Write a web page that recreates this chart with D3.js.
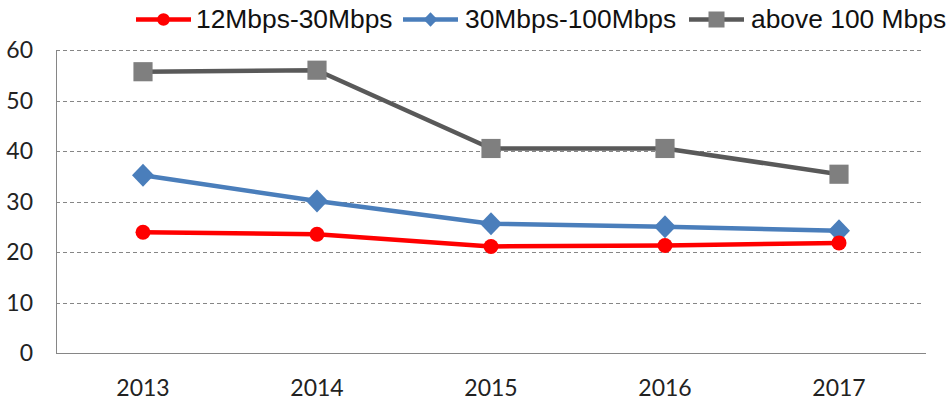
<!DOCTYPE html>
<html>
<head>
<meta charset="utf-8">
<script src="https://cdn.jsdelivr.net/npm/d3@7"></script>
<style>
body { margin: 0; background: #fff; }
svg { display: block; }
</style>
</head>
<body>
<div id="chart"></div>
<script>
var years = ["2013", "2014", "2015", "2016", "2017"];
var low = [23.9, 23.5, 21.1, 21.3, 21.8];
var mid = [35.2, 30.1, 25.6, 25.0, 24.2];
var high = [55.7, 56.0, 40.5, 40.5, 35.4];
var yTicks = [0, 10, 20, 30, 40, 50, 60];
var names = ["12Mbps-30Mbps", "30Mbps-100Mbps", "above 100 Mbps"];

var series = [
	{name: names[0], values: low, color: "#ff0000", marker: "circle"},
	{name: names[1], values: mid, color: "#4a7ebb", marker: "diamond"},
	{name: names[2], values: high, color: "#595959", marker: "square"}
];

var width = 947, height = 401;
var plotLeft = 56, plotRight = 926, plotTop = 50, plotBottom = 353;

var svg = d3.select("#chart")
	.append("svg")
	.attr("width", width)
	.attr("height", height);

var x = d3.scaleBand().domain(years).range([plotLeft, plotRight]);
var y = d3.scaleLinear().domain([0, 60]).range([plotBottom, plotTop]);

// gridlines
svg.selectAll(".grid")
	.data(yTicks.filter(function(d){ return d > 0; }))
	.enter()
	.append("line")
	.attr("x1", plotLeft)
	.attr("x2", plotRight - 3)
	.attr("y1", function(d){ return Math.round(y(d)) + 0.5; })
	.attr("y2", function(d){ return Math.round(y(d)) + 0.5; })
	.attr("stroke", "#868686")
	.attr("stroke-width", 1)
	.attr("stroke-dasharray", "4,3");

// axes lines
svg.append("line")
	.attr("x1", plotLeft + 0.5).attr("x2", plotLeft + 0.5)
	.attr("y1", y(60)).attr("y2", y(0))
	.attr("stroke", "#868686");
svg.append("line")
	.attr("x1", plotLeft).attr("x2", plotRight)
	.attr("y1", Math.round(y(0)) + 0.5).attr("y2", Math.round(y(0)) + 0.5)
	.attr("stroke", "#868686");

// y tick labels
svg.selectAll(".ylab")
	.data(yTicks).enter()
	.append("text")
	.attr("x", 33)
	.attr("y", function(d){ return y(d); })
	.attr("dy", "0.35em")
	.attr("text-anchor", "end")
	.attr("font-family", "Lato, sans-serif")
	.attr("font-size", 23)
	.attr("fill", "#222")
	.text(function(d){ return d; });

// x tick labels
svg.selectAll(".xlab")
	.data(years).enter()
	.append("text")
	.attr("x", function(d){ return x(d) + x.bandwidth() / 2; })
	.attr("y", 396)
	.attr("text-anchor", "middle")
	.attr("font-family", "Lato, sans-serif")
	.attr("font-size", 23)
	.attr("fill", "#222")
	.text(function(d){ return d; });

var line = d3.line()
	.x(function(d, i){ return x(years[i]) + x.bandwidth() / 2; })
	.y(function(d){ return y(d); });

function drawMarker(g, type, color, size) {
	if (type == "circle") {
		g.append("circle").attr("r", size * 0.68).attr("fill", color);
	} else if (type == "diamond") {
		var s = size;
		g.append("path")
			.attr("d", "M0," + (-s * 1.05) + "L" + s + ",0L0," + (s * 1.05) + "L" + (-s) + ",0Z")
			.attr("fill", color);
	} else {
		var h = size * 0.87;
		g.append("rect")
			.attr("x", -h).attr("y", -h)
			.attr("width", 2 * h).attr("height", 2 * h)
			.attr("fill", "#7f7f7f");
	}
}

// gray underneath, red on top
[series[2], series[1], series[0]].forEach(function(s){
	svg.append("path")
		.datum(s.values)
		.attr("d", line)
		.attr("fill", "none")
		.attr("stroke", s.color)
		.attr("stroke-width", 4.5)
		.attr("stroke-linejoin", "round");

	s.values.forEach(function(v, i){
		var g = svg.append("g")
			.attr("transform", "translate(" + (x(years[i]) + x.bandwidth() / 2) + "," + y(v) + ")");
		drawMarker(g, s.marker, s.color, 11);
	});
});

// legend
var legendX = [136, 403, 689];
series.forEach(function(s, i){
	var lg = svg.append("g")
		.attr("transform", "translate(" + legendX[i] + ",19.5)");
	lg.append("line")
		.attr("x1", 0).attr("x2", 55)
		.attr("y1", 0).attr("y2", 0)
		.attr("stroke", s.color)
		.attr("stroke-width", 4.5);
	var m = lg.append("g").attr("transform", "translate(27.5,0)");
	drawMarker(m, s.marker, s.color, s.marker == "diamond" ? 7 : 9.2);
	lg.append("text")
		.attr("x", s.marker == "circle" ? 60 : 62)
		.attr("y", 8)
		.attr("font-family", "'Liberation Sans', Arial, sans-serif")
		.attr("font-size", 26.4)
		.attr("fill", "#111")
		.text(s.name);
});
</script>
</body>
</html>
